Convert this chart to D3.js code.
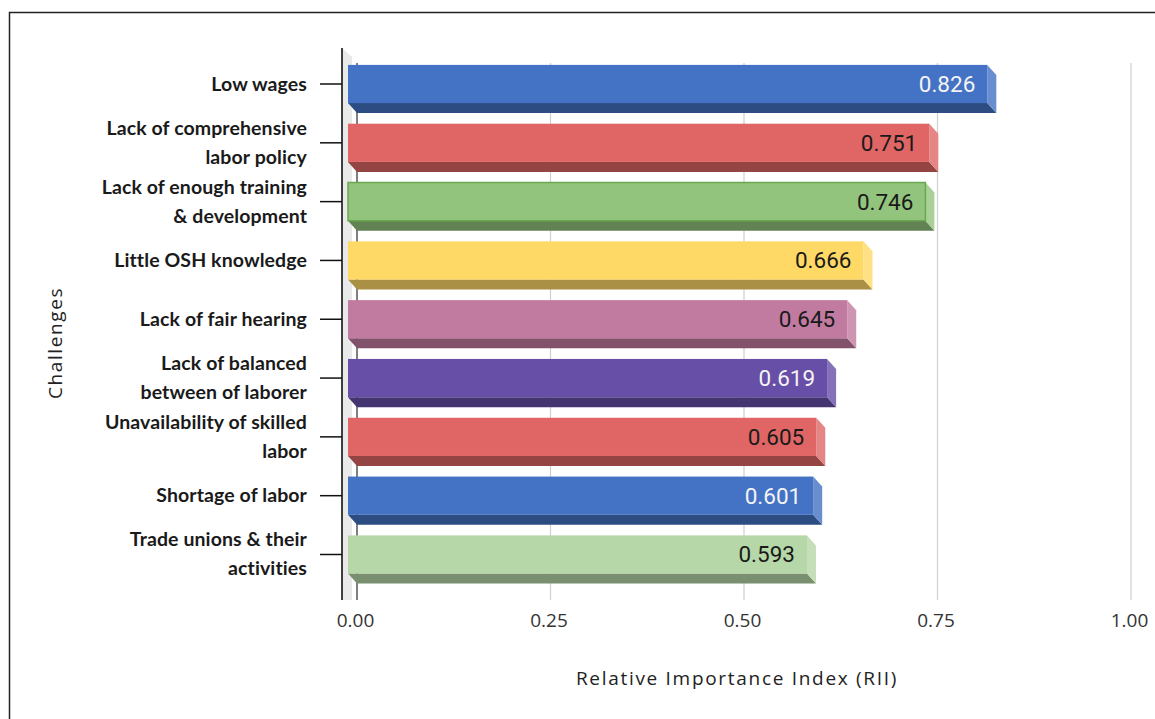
<!DOCTYPE html>
<html>
<head>
<meta charset="utf-8">
<script src="https://cdn.jsdelivr.net/npm/d3@7"></script>
<style>
  html, body { margin: 0; padding: 0; background: #fff; }
  svg { display: block; }
</style>
</head>
<body>
<svg id="chart" width="1155" height="719"></svg>
<script>
// Challenges ranked by Relative Importance Index
const categories = [
  "Low wages",
  "Lack of comprehensive\nlabor policy",
  "Lack of enough training\n& development",
  "Little OSH knowledge",
  "Lack of fair hearing",
  "Lack of balanced\nbetween of laborer",
  "Unavailability of skilled\nlabor",
  "Shortage of labor",
  "Trade unions & their\nactivities"
];
const rii = [0.826, 0.751, 0.746, 0.666, 0.645, 0.619, 0.605, 0.601, 0.593];
const barColors = ["#4472c4", "#e06666", "#93c47d", "#ffd966", "#c27ba0",
                   "#674ea7", "#e06666", "#4472c4", "#b6d7a8"];
const xTicks = [0, 0.25, 0.5, 0.75, 1.0];

const svg = d3.select("#chart");

// 3D extrusion offset of the bars (front face -> back plane)
const dx = 9, dy = 10;

const x = d3.scaleLinear().domain([0, 1]).range([357, 1131]);
const y = d3.scaleBand().domain(categories).range([54.6, 583.9])
  .paddingInner(0.35).paddingOuter(0.175);

// outer frame
svg.append("rect")
  .attr("x", 9.5).attr("y", 12.5).attr("width", 1160).attr("height", 720)
  .attr("fill", "none").attr("stroke", "#222").attr("stroke-width", 1.5);

// side wall
svg.append("path")
  .attr("d", "M342,48 L352,57 L352,600 L342,600 Z")
  .attr("fill", "#e9e9e9");

// gridlines on the back plane
svg.append("g").selectAll("line").data(xTicks).join("line")
  .attr("x1", d => x(d)).attr("x2", d => x(d))
  .attr("y1", 63).attr("y2", 600)
  .attr("stroke", d => d === 0 ? "#555" : "#cfcfcf")
  .attr("stroke-width", d => d === 0 ? 1.5 : 1.2);

// bars
const bars = svg.append("g").selectAll("g").data(categories).join("g");

bars.each(function (c, i) {
  const g = d3.select(this);
  const col = d3.color(barColors[i]);
  const x0 = x(0) - dx, x1 = x(rii[i]) - dx;
  const y0 = y(c), h = y.bandwidth();

  // bottom face
  g.append("path")
    .attr("d", `M${x0},${y0 + h} L${x1},${y0 + h} L${x1 + dx},${y0 + h + dy} L${x0 + dx},${y0 + h + dy} Z`)
    .attr("fill", col.darker(1.15));
  // right face
  g.append("path")
    .attr("d", `M${x1},${y0} L${x1 + dx},${y0 + dy} L${x1 + dx},${y0 + h + dy} L${x1},${y0 + h} Z`)
    .attr("fill", d3.interpolateRgb(col, "#fff")(0.2));
  // front face
  g.append("rect")
    .attr("x", x0).attr("y", y0).attr("width", x1 - x0).attr("height", h)
    .attr("fill", col)
    .attr("stroke", i === 2 ? "#6aa84f" : "none")
    .attr("stroke-width", 1.5);

  // value label, contrast colour from bar luminance
  const lum = 0.2126 * col.r + 0.7152 * col.g + 0.0722 * col.b;
  g.append("text")
    .attr("x", x1 - 12).attr("y", y0 + h / 2 + 8)
    .attr("text-anchor", "end")
    .attr("font-family", "Roboto, sans-serif")
    .attr("font-size", 22.5)
    .attr("fill", lum < 125 ? "#f4f4f4" : "#1a1a1a")
    .text(d3.format(".3f")(rii[i]));
});

// category axis line and ticks
svg.append("line")
  .attr("x1", 342).attr("x2", 342).attr("y1", 48).attr("y2", 600)
  .attr("stroke", "#111").attr("stroke-width", 1.6);
svg.append("g").selectAll("line").data(categories).join("line")
  .attr("x1", 320).attr("x2", 342)
  .attr("y1", d => y(d) + y.bandwidth() / 2)
  .attr("y2", d => y(d) + y.bandwidth() / 2)
  .attr("stroke", "#111").attr("stroke-width", 1.5);

// category labels (one or two lines)
const labels = svg.append("g").selectAll("text").data(categories).join("text")
  .attr("text-anchor", "end")
  .attr("font-family", "Lato, sans-serif")
  .attr("font-weight", 700)
  .attr("font-size", 19.5)
  .attr("letter-spacing", 0.1)
  .attr("fill", "#1a1a1a");
labels.each(function (d) {
  const lines = d.split("\n");
  const cy = y(d) + y.bandwidth() / 2;
  const t = d3.select(this);
  lines.forEach((ln, k) => {
    const off = lines.length === 1 ? 0 : (k === 0 ? -14.5 : 14.5);
    t.append("tspan").attr("x", 307).attr("y", cy + off + 6.5).text(ln);
  });
});

// value axis labels
const xAxis = svg.append("g")
  .attr("transform", "translate(0,610)")
  .call(d3.axisBottom(x).tickValues(xTicks).tickSize(0).tickFormat(d3.format(".2f")));
xAxis.select(".domain").remove();
xAxis.selectAll("text")
  .attr("font-family", "'Open Sans', sans-serif")
  .attr("font-size", 19)
  .attr("fill", "#333")
  .attr("dx", -2);

// axis titles
svg.append("text")
  .attr("x", 737).attr("y", 685)
  .attr("text-anchor", "middle")
  .attr("font-family", "'Open Sans', sans-serif")
  .attr("font-size", 19)
  .attr("letter-spacing", 1.7)
  .attr("fill", "#222")
  .text("Relative Importance Index (RII)");

svg.append("text")
  .attr("transform", "translate(62,343) rotate(-90)")
  .attr("text-anchor", "middle")
  .attr("font-family", "'Open Sans', sans-serif")
  .attr("font-size", 19)
  .attr("letter-spacing", 1.6)
  .attr("fill", "#222")
  .text("Challenges");
</script>
</body>
</html>
